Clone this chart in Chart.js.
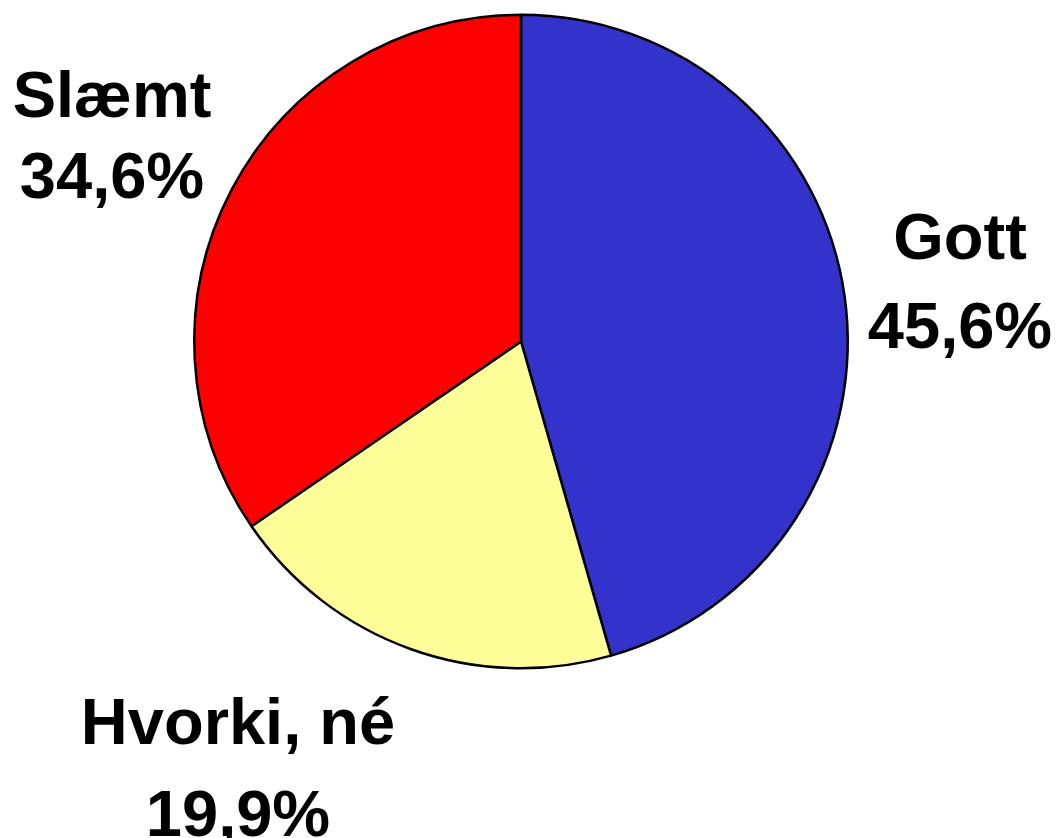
<!DOCTYPE html>
<html lang="is">
<head>
  <meta charset="UTF-8">
  <title>Kökurit</title>
  <script src="https://cdn.jsdelivr.net/npm/chart.js"></script>
  <style>
    html, body { margin: 0; padding: 0; background: #fff; }
    #wrap { width: 1061px; height: 838px; }
  </style>
</head>
<body>
  <div id="wrap">
    <canvas id="myChart"></canvas>
  </div>

  <script>
    // gögn
    var flokkar = ['Gott', 'Hvorki, né', 'Slæmt'];
    var gildi = [45.6, 19.9, 34.6];
    var litir = ['#3333CC', '#FFFF99', '#FF0000'];

    // staðsetning merkja (miðja x, grunnlína lína 1 og 2)
    var merki = [
      { x: 960, y1: 259, y2: 348 },
      { x: 238, y1: 744, y2: 836 },
      { x: 112, y1: 117, y2: 198 }
    ];

    var merkjaPlugin = {
      id: 'merki',
      afterDraw: function (chart) {
        var ctx = chart.ctx;
        ctx.save();
        ctx.fillStyle = '#000';
        ctx.font = 'bold 65px "Liberation Sans", Arial, sans-serif';
        ctx.textAlign = 'center';
        ctx.textBaseline = 'alphabetic';
        chart.data.labels.forEach(function (lbl, i) {
          var m = merki[i];
          var v = chart.data.datasets[0].data[i];
          ctx.fillText(lbl, m.x, m.y1);
          ctx.fillText(v.toFixed(1).replace('.', ',') + '%', m.x, m.y2);
        });
        ctx.restore();
      }
    };

    var ctx = document.getElementById('myChart').getContext('2d');
    var myChart = new Chart(ctx, {
      type: 'pie',
      data: {
        labels: flokkar,
        datasets: [{
          data: gildi,
          backgroundColor: litir,
          borderColor: '#000',
          borderWidth: 2.5
        }]
      },
      options: {
        responsive: true,
        maintainAspectRatio: false,
        animation: false,
        layout: {
          padding: { left: 193, right: 212, top: 13, bottom: 168 }
        },
        plugins: {
          legend: { display: false },
          tooltip: { enabled: false }
        }
      },
      plugins: [merkjaPlugin]
    });
  </script>
</body>
</html>
